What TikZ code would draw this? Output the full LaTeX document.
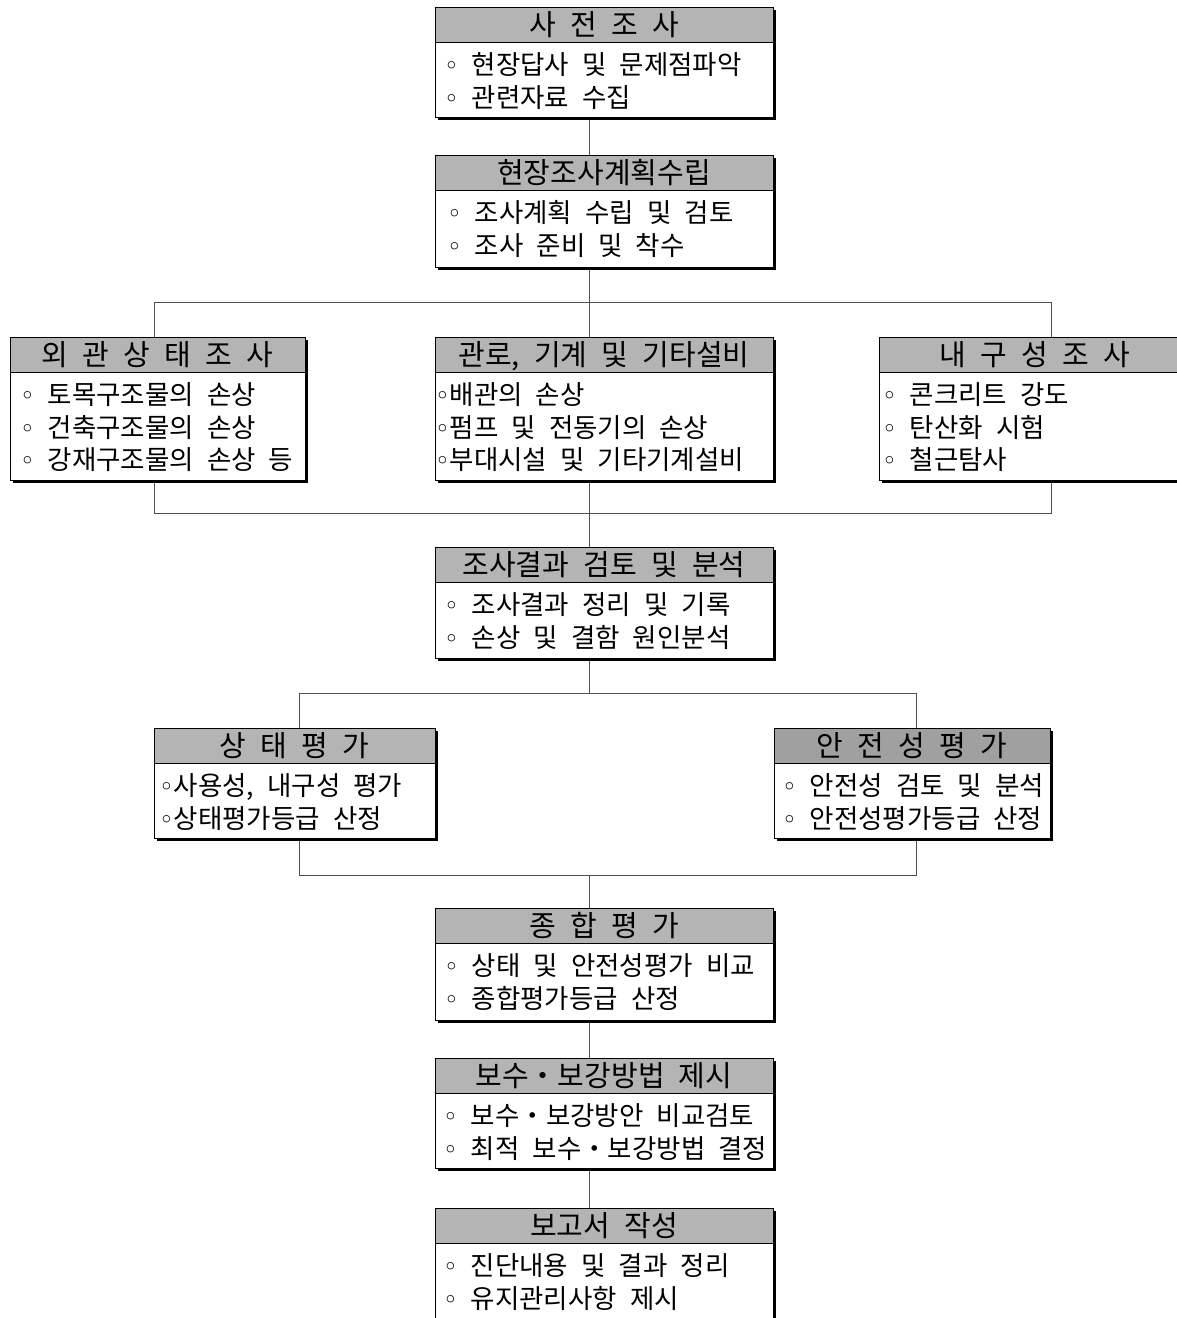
\documentclass[tikz,border=0pt]{standalone}
\usepackage{fontspec}
\newfontfamily\kr{Noto Sans CJK KR}[WordSpace=2.2]
\newfontfamily\dejavu{DejaVu Sans}
\usetikzlibrary{fit,backgrounds}
\definecolor{hdrgray}{RGB}{180,180,180}
\definecolor{hdrdark}{RGB}{160,160,160}
\definecolor{conncol}{RGB}{80,80,80}
\newcommand\bul{\makebox[0.55em]{\dejavu\fontsize{25}{25}\selectfont ◦}}
\tikzset{
  hdrtext/.style={font=\kr\fontsize{29}{30}\selectfont, inner sep=0, anchor=base},
  bodytext/.style={font=\kr\fontsize{26.5}{33}\selectfont, inner sep=0, anchor=base west},
  conn/.style={draw=conncol, line width=1pt},
  boxframe/.style={draw=black, line width=1pt},
}
% name, x1, y1, x2, y2, header colour, header, text offset, lines
\newcommand\mkbox[9]{%
  \fill[black] (#2+3,#3+3) rectangle (#4+3,#5+3);
  \fill[white] (#2,#3) rectangle (#4,#5);
  \fill[#6] (#2,#3) rectangle (#4,#3+35);
  \draw[boxframe] (#2,#3+35) -- (#4,#3+35);
  \draw[boxframe] (#2,#3) rectangle (#4,#5);
  \node[fit={(#2,#3) (#4,#5)}, inner sep=0] (#1) {};
  \node[hdrtext] (#1h) at ({(#2+#4)/2}, #3+28.5) {#7};
  \foreach \t [count=\i] in {#9} {
    \node[bodytext] (#1l\i) at (#2+#8, #3+35+32.5+\i*32.5-32.5) {\t};
  }%
}
\begin{document}
\begin{tikzpicture}[x=1pt,y=-1pt]
\useasboundingbox (0,0) rectangle (1177,1318);
\begin{scope}[on background layer]
  \fill[white] (0,0) rectangle (1177,1318);
\end{scope}
\clip (0,0) rectangle (1177,1318);

\mkbox{b1}{435}{7}{773}{117}{hdrgray}{사 전 조 사}{9}{{\bul\ 현장답사 및 문제점파악},{\bul\ 관련자료 수집}}
\mkbox{b2}{435}{155}{773}{267}{hdrgray}{현장조사계획수립}{12}{{\bul\ 조사계획 수립 및 검토},{\bul\ 조사 준비 및 착수}}
\mkbox{b3}{10}{337}{305}{480}{hdrgray}{외 관 상 태 조 사}{10}{{\bul\ 토목구조물의 손상},{\bul\ 건축구조물의 손상},{\bul\ 강재구조물의 손상 등}}
\mkbox{b4}{435}{337}{773}{480}{hdrgray}{관로, 기계 및 기타설비}{0}{{\bul 배관의 손상},{\bul 펌프 및 전동기의 손상},{\bul 부대시설 및 기타기계설비}}
\mkbox{b5}{879}{337}{1190}{480}{hdrgray}{내 구 성 조 사}{3}{{\bul\ 콘크리트 강도},{\bul\ 탄산화 시험},{\bul\ 철근탐사}}
\mkbox{b6}{435}{547}{773}{658}{hdrgray}{조사결과 검토 및 분석}{9}{{\bul\ 조사결과 정리 및 기록},{\bul\ 손상 및 결함 원인분석}}
\mkbox{b7}{154}{728}{435}{838}{hdrgray}{상 태 평 가}{5}{{\bul 사용성, 내구성 평가},{\bul 상태평가등급 산정}}
\mkbox{b8}{774}{728}{1050}{838}{hdrdark}{안 전 성 평 가}{8}{{\bul\ 안전성 검토 및 분석},{\bul\ 안전성평가등급 산정}}
\mkbox{b9}{435}{908}{773}{1020}{hdrgray}{종 합 평 가}{9}{{\bul\ 상태 및 안전성평가 비교},{\bul\ 종합평가등급 산정}}
\mkbox{b10}{435}{1058}{773}{1168}{hdrgray}{보수・보강방법 제시}{8}{{\bul\ 보수・보강방안 비교검토},{\bul\ 최적 보수・보강방법 결정}}
\mkbox{b11}{435}{1208}{773}{1340}{hdrgray}{보고서 작성}{8}{{\bul\ 진단내용 및 결과 정리},{\bul\ 유지관리사항 제시}}

\coordinate (xl) at (154,0);
\coordinate (xm) at (589,0);
\coordinate (xr) at (1051,0);
\coordinate (xl2) at (299,0);
\coordinate (xr2) at (916,0);
\coordinate (y1) at (0,302);
\coordinate (y2) at (0,513);
\coordinate (y3) at (0,693);
\coordinate (y4) at (0,875);

\begin{scope}[on background layer]
  \draw[conn] (b1.south -| xm) -- (b2.north -| xm);
  \draw[conn] (b2.south -| xm) -- (xm |- y1);
  \draw[conn] (xl |- b3.north) -- (xl |- y1) -- (xr |- y1) -- (xr |- b5.north);
  \draw[conn] (xm |- y1) -- (b4.north -| xm);
  \draw[conn] (xl |- b3.south) -- (xl |- y2) -- (xr |- y2) -- (xr |- b5.south);
  \draw[conn] (b4.south -| xm) -- (b6.north -| xm);
  \draw[conn] (b6.south -| xm) -- (xm |- y3);
  \draw[conn] (xl2 |- b7.north) -- (xl2 |- y3) -- (xr2 |- y3) -- (xr2 |- b8.north);
  \draw[conn] (xl2 |- b7.south) -- (xl2 |- y4) -- (xr2 |- y4) -- (xr2 |- b8.south);
  \draw[conn] (xm |- y4) -- (b9.north -| xm);
  \draw[conn] (b9.south -| xm) -- (b10.north -| xm);
  \draw[conn] (b10.south -| xm) -- (b11.north -| xm);
\end{scope}
\end{tikzpicture}
\end{document}
